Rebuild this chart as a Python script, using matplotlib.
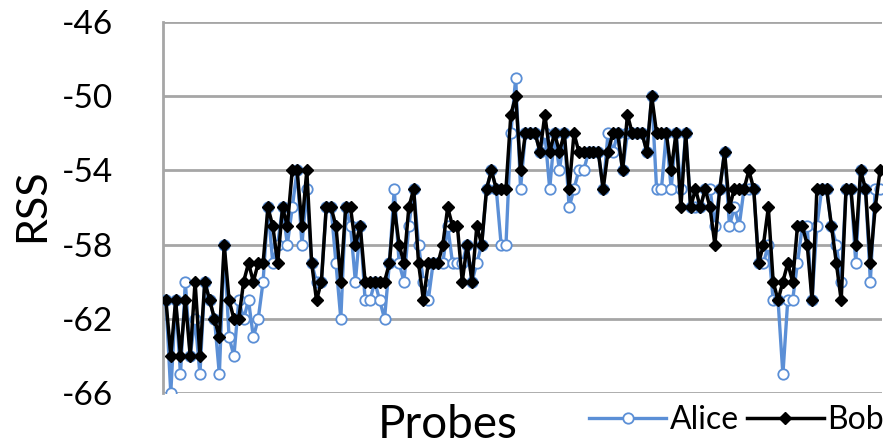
import matplotlib
matplotlib.use("Agg")
import matplotlib.pyplot as plt
import numpy as np

plt.rcParams['font.family'] = ['Lato', 'DejaVu Sans']

# RSS readings per probe
alice = [-61, -66, -61, -65, -60, -64, -62, -65, -60, -61,
         -62, -65, -58, -63, -64, -61, -62, -61, -63, -62,
         -60, -56, -59, -58, -56, -58, -56, -54, -58, -55,
         -59, -60, -60, -56, -56, -59, -62, -56, -57, -60,
         -57, -61, -61, -60, -61, -62, -59, -55, -59, -60,
         -57, -55, -58, -60, -61, -59, -59, -59, -57, -59,
         -59, -59, -58, -60, -59, -58, -55, -54, -55, -58,
         -58, -52, -49, -55, -52, -52, -52, -53, -52, -55,
         -52, -54, -52, -56, -55, -54, -54, -53, -53, -53,
         -55, -52, -53, -52, -54, -52, -52, -52, -52, -53,
         -50, -55, -55, -52, -55, -52, -55, -52, -56, -56,
         -56, -55, -55, -57, -55, -53, -57, -56, -57, -55,
         -55, -55, -59, -59, -58, -61, -61, -65, -61, -61,
         -59, -57, -57, -61, -57, -55, -55, -57, -58, -60,
         -55, -55, -59, -54, -55, -60, -55, -55]

bob = [-61, -64, -61, -64, -61, -64, -60, -64, -60, -61,
       -62, -63, -58, -61, -62, -62, -60, -59, -60, -59,
       -59, -56, -57, -59, -56, -57, -54, -54, -57, -54,
       -59, -61, -60, -56, -56, -57, -60, -56, -56, -58,
       -57, -60, -60, -60, -60, -60, -59, -56, -58, -59,
       -56, -55, -59, -61, -59, -59, -59, -58, -56, -57,
       -57, -60, -58, -60, -57, -58, -55, -54, -55, -55,
       -55, -51, -50, -54, -52, -52, -52, -53, -51, -53,
       -52, -53, -52, -55, -52, -53, -53, -53, -53, -53,
       -55, -53, -52, -52, -54, -51, -52, -52, -52, -53,
       -50, -52, -52, -52, -54, -52, -56, -52, -56, -55,
       -56, -55, -56, -58, -55, -53, -56, -55, -55, -55,
       -54, -55, -59, -58, -56, -60, -61, -60, -59, -60,
       -57, -57, -58, -61, -55, -55, -55, -57, -59, -61,
       -55, -55, -58, -54, -55, -59, -56, -54]

y_ticks = [-66, -62, -58, -54, -50, -46]

x = np.arange(len(alice))

fig = plt.figure(figsize=(8.85, 4.45), dpi=100)
ax = fig.add_axes([163 / 885, 1 - 393 / 445, (882 - 163) / 885, (393 - 22) / 445])

ax.plot(x, alice, color='#5B8FD6', lw=2.4, marker='o', ms=7.5,
        mfc='white', mec='#5B8FD6', mew=1.3, label='Alice', zorder=3)
ax.plot(x, bob, color='black', lw=2.5, marker='D', ms=6.5,
        mfc='black', mec='black', label='Bob', zorder=4)

ax.set_ylim(-66, -46)
ax.set_xlim(-0.6, len(alice) - 0.6)
ax.set_yticks(y_ticks)
ax.set_yticklabels([str(v) for v in y_ticks])
ax.set_xticks([])
ax.yaxis.grid(True, color='#A6A6A6', lw=2.0)
ax.set_axisbelow(True)
for side in ('top', 'right', 'bottom'):
    ax.spines[side].set_visible(False)
ax.spines['left'].set_color('#A6A6A6')
ax.spines['left'].set_linewidth(2.0)
ax.tick_params(axis='y', length=0, labelsize=24, pad=36)

fig.text(32 / 885, 1 - 205 / 445, 'RSS', rotation=90, fontsize=31,
         ha='center', va='center')
fig.text(448 / 885, 1 - 425 / 445, 'Probes', fontsize=33,
         ha='center', va='center')

leg = fig.legend(loc='center right', bbox_to_anchor=(884 / 885, 1 - 420 / 445),
                 ncol=2, frameon=False, fontsize=23, handlelength=2.4,
                 handletextpad=0.12, columnspacing=0.25, borderpad=0,
                 borderaxespad=0)

fig.savefig('out.png', dpi=100)
